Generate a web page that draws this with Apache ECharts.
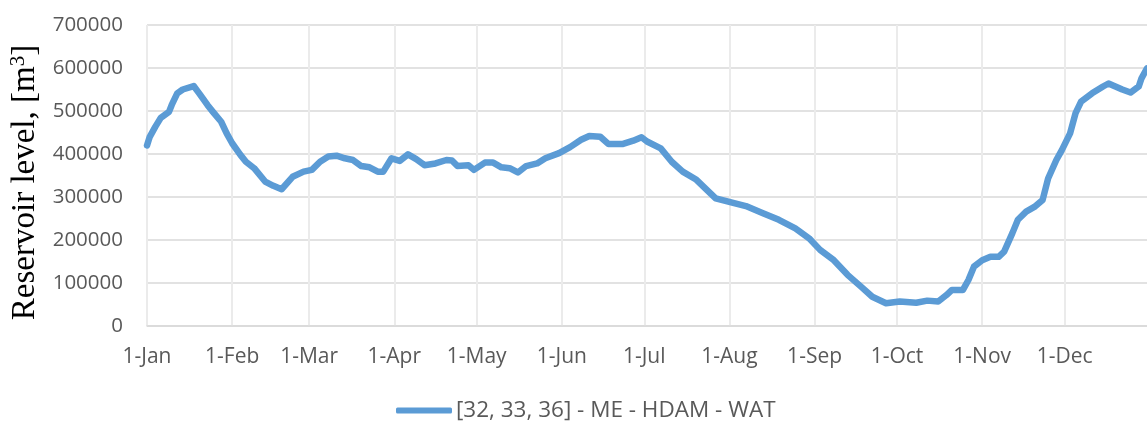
<!DOCTYPE html>
<html>
<head>
<meta charset="utf-8">
<style>
  html, body { margin: 0; padding: 0; background: #ffffff; }
  #chart { width: 1147px; height: 421px; }
</style>
<script src="https://cdn.jsdelivr.net/npm/echarts@6/dist/echarts.min.js"></script>
</head>
<body>
<div id="chart"></div>
<script>
// Calendar used for the day-of-year category axis
const monthNames = ['Jan', 'Feb', 'Mar', 'Apr', 'May', 'Jun', 'Jul', 'Aug', 'Sep', 'Oct', 'Nov', 'Dec'];
const monthLengths = [31, 28, 31, 30, 31, 30, 31, 31, 30, 31, 30, 31];

// Sampled reservoir storage: day of year (0 = 1-Jan) and volume in m3
const sampleDays = [
  0, 1, 3, 5, 8, 9, 11, 13, 17, 19, 22, 24, 27, 29, 31, 34, 36, 39, 43, 46, 49,
  53, 57, 60, 63, 66, 69, 72, 75, 78, 81, 84, 86, 89, 92, 95, 98, 101, 105, 109,
  111, 113, 117, 119, 123, 126, 129, 132, 135, 138, 142, 145, 150, 154, 158, 161,
  165, 168, 173, 177, 180, 182, 187, 191, 195, 200, 205, 207, 213, 218, 224, 230,
  236, 241, 245, 250, 255, 260, 264, 269, 274, 280, 284, 288, 291, 293, 297, 299,
  301, 304, 307, 310, 312, 315, 317, 320, 323, 326, 328, 331, 333, 336, 338, 340,
  344, 348, 350, 355, 358, 361, 362, 364
];
const storage = [
  420000, 440000, 463000, 484000, 498000, 514000, 541000, 550000, 558000, 541000,
  514000, 498000, 475000, 448000, 425000, 398000, 382000, 367000, 336000, 326000,
  318000, 347000, 359000, 363000, 382000, 394000, 396000, 390000, 386000, 372000,
  369000, 359000, 359000, 390000, 384000, 399000, 388000, 374000, 378000, 386000,
  385000, 372000, 374000, 363000, 380000, 380000, 369000, 367000, 357000, 372000,
  378000, 390000, 402000, 416000, 433000, 442000, 440000, 423000, 423000, 431000,
  439000, 429000, 413000, 382000, 359000, 340000, 309000, 297000, 287000, 279000,
  263000, 247000, 227000, 204000, 177000, 153000, 119000, 91000, 68000, 53000,
  57000, 54000, 59000, 57000, 72000, 84000, 84000, 107000, 138000, 153000, 161000,
  161000, 173000, 216000, 247000, 266000, 277000, 293000, 343000, 386000, 409000,
  448000, 495000, 522000, 541000, 557000, 564000, 550000, 543000, 557000, 576000,
  599000
];

const seriesName = '[32, 33, 36] - ME - HDAM - WAT';

// One category per day, labelled "d-Mon"
const dayLabels = [];
monthNames.forEach((m, i) => {
  for (let d = 1; d <= monthLengths[i]; d++) dayLabels.push(d + '-' + m);
});
const isMonthStart = (idx, val) => val.indexOf('1-') === 0;

const points = sampleDays.map((d, i) => [d, storage[i]]);

const chart = echarts.init(document.getElementById('chart'), null, { renderer: 'canvas' });
chart.setOption({
  animation: false,
  backgroundColor: '#ffffff',
  textStyle: { fontFamily: 'Open Sans' },
  grid: { left: 147, right: 0, top: 25, bottom: 95, containLabel: false },
  legend: {
    left: 391,
    top: 394,
    itemWidth: 56,
    itemHeight: 6,
    itemGap: 10,
    icon: 'roundRect',
    textStyle: { fontSize: 22.5, color: '#595959', fontFamily: 'Open Sans', padding: [0, 0, 0, -1] },
    data: [seriesName]
  },
  xAxis: {
    type: 'category',
    data: dayLabels,
    boundaryGap: false,
    axisLine: { show: true, lineStyle: { color: '#d9d9d9', width: 1.5 } },
    axisTick: { show: false },
    axisLabel: {
      interval: isMonthStart,
      color: '#595959',
      fontSize: 21,
      margin: 21,
      fontFamily: 'Open Sans'
    },
    splitLine: {
      show: true,
      interval: isMonthStart,
      lineStyle: { color: '#ebebeb', width: 2 }
    }
  },
  yAxis: {
    type: 'value',
    min: 0,
    max: 700000,
    interval: 100000,
    name: '{t|Reservoir level, [m}{s|3}{t|]}',
    nameLocation: 'middle',
    nameGap: 98,
    nameRotate: 90,
    nameTextStyle: {
      padding: [0, 14, 0, 0],
      rich: {
        t: { fontFamily: 'Liberation Serif', fontSize: 33, color: '#000000' },
        s: { fontFamily: 'Liberation Serif', fontSize: 21, color: '#000000', verticalAlign: 'top', padding: [0, 0, 13, 0] }
      }
    },
    axisLine: { show: false },
    axisTick: { show: false },
    axisLabel: {
      color: '#595959',
      fontSize: 20.5,
      margin: 24,
      fontFamily: 'Open Sans',
      formatter: (v) => String(v)
    },
    splitLine: { show: true, lineStyle: { color: '#d9d9d9', width: 1.5 } }
  },
  series: [{
    name: seriesName,
    type: 'line',
    data: points,
    showSymbol: false,
    symbol: 'none',
    lineStyle: { color: '#5b9bd5', width: 6.5, cap: 'round', join: 'round' },
    itemStyle: { color: '#5b9bd5' }
  }]
});
</script>
</body>
</html>
